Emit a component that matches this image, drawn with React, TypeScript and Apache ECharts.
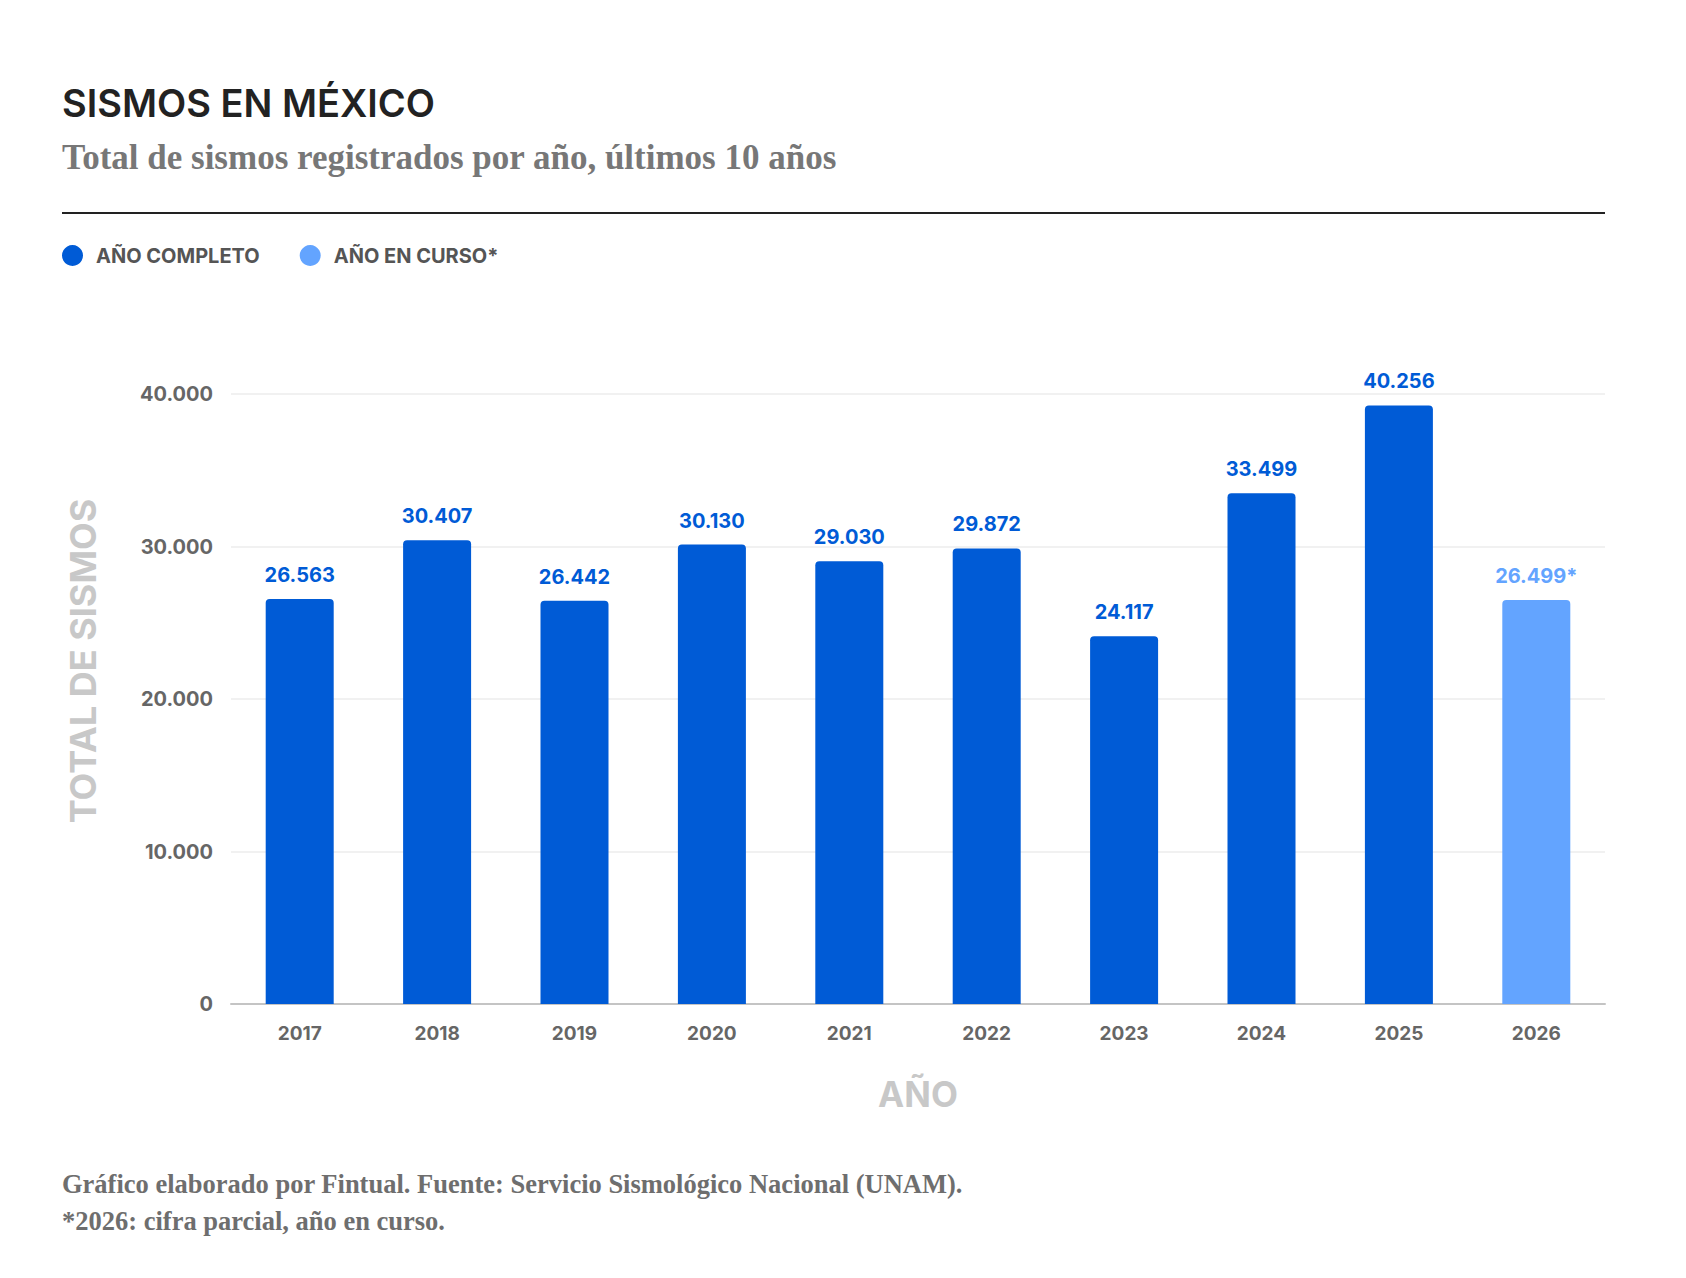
import { useEffect, useRef } from "react";
import * as echarts from "echarts";

// ── Data ──────────────────────────────────────────────────────────────────────
const YEARS = ["2017", "2018", "2019", "2020", "2021", "2022", "2023", "2024", "2025", "2026"];
// values printed above each bar
const TOTALS = [26563, 30407, 26442, 30130, 29030, 29872, 24117, 33499, 40256, 26499];
// bar heights as drawn (the 2025 bar stops short of the 40.000 line in the source)
const BAR_HEIGHTS = [26563, 30407, 26442, 30130, 29030, 29872, 24117, 33499, 39250, 26499];
const IN_PROGRESS = [false, false, false, false, false, false, false, false, false, true];
const SERIES_NAMES = ["AÑO COMPLETO", "AÑO EN CURSO*"];

const BLUE = "#005BD6";
const LIGHT_BLUE = "#63A4FF";
const SANS = "Inter, 'Noto Sans', sans-serif";
const SERIF = "'Liberation Serif', 'DejaVu Serif', serif";

const fmt = (n: number) => String(n).replace(/\B(?=(\d{3})+(?!\d))/g, ".");

export default function App() {
  const ref = useRef<HTMLDivElement>(null);

  useEffect(() => {
    const el = ref.current;
    if (!el) return;
    document.body.style.margin = "0";
    const chart = echarts.init(el, null, { renderer: "svg" });

    const barLabel = (color: string) => ({
      show: true,
      position: "top" as const,
      distance: 14,
      color,
      fontFamily: SANS,
      fontSize: 20,
      fontWeight: 700,
      formatter: (p: { dataIndex: number }) =>
        fmt(TOTALS[p.dataIndex]) + (IN_PROGRESS[p.dataIndex] ? "*" : ""),
    });

    chart.setOption({
      animation: false,
      backgroundColor: "#fff",
      legend: {
        left: 57,
        top: 240,
        icon: "circle",
        itemWidth: 21,
        itemHeight: 21,
        itemGap: 40,
        data: SERIES_NAMES,
        textStyle: {
          color: "#555",
          fontFamily: SANS,
          fontSize: 20,
          fontWeight: 700,
          padding: [0, 0, 0, 8],
        },
      },
      grid: { left: 231, right: 81, top: 394, bottom: 274, containLabel: false },
      xAxis: {
        type: "category",
        data: YEARS,
        axisLine: { lineStyle: { color: "#c4c4c4", width: 2 } },
        axisTick: { show: false },
        axisLabel: { color: "#666", fontFamily: SANS, fontSize: 19, fontWeight: 700, margin: 20 },
      },
      yAxis: {
        type: "value",
        min: 0,
        max: 40000,
        interval: 10000,
        axisLine: { show: false },
        axisTick: { show: false },
        splitLine: { lineStyle: { color: "#ececec", width: 1.5 } },
        axisLabel: {
          color: "#666",
          fontFamily: SANS,
          fontSize: 20,
          fontWeight: 700,
          margin: 18,
          formatter: (v: number) => fmt(v),
        },
      },
      series: [
        {
          name: SERIES_NAMES[0],
          type: "bar",
          barWidth: 68,
          barGap: "-100%",
          data: BAR_HEIGHTS.map((v, i) => (IN_PROGRESS[i] ? "-" : v)),
          itemStyle: { color: BLUE, borderRadius: [4, 4, 0, 0] },
          label: barLabel(BLUE),
        },
        {
          name: SERIES_NAMES[1],
          type: "bar",
          barWidth: 68,
          barGap: "-100%",
          data: BAR_HEIGHTS.map((v, i) => (IN_PROGRESS[i] ? v : "-")),
          itemStyle: { color: LIGHT_BLUE, borderRadius: [4, 4, 0, 0] },
          label: barLabel(LIGHT_BLUE),
        },
      ],
      graphic: [
        {
          type: "text",
          left: 62,
          top: 84,
          style: { text: "SISMOS EN MÉXICO", fill: "#222", font: `600 38px ${SANS}` },
        },
        {
          type: "text",
          left: 62,
          top: 140,
          style: {
            text: "Total de sismos registrados por año, últimos 10 años",
            fill: "#777",
            font: `bold 35px ${SERIF}`,
          },
        },
        {
          type: "line",
          shape: { x1: 62, y1: 213, x2: 1605, y2: 213 },
          style: { stroke: "#222", lineWidth: 2 },
        },
        {
          type: "text",
          x: 918,
          y: 1094,
          style: {
            text: "AÑO",
            fill: "#c8c8c8",
            font: `700 35px ${SANS}`,
            textAlign: "center",
            verticalAlign: "middle",
          },
        },
        {
          type: "text",
          x: 83,
          y: 661,
          rotation: Math.PI / 2,
          style: {
            text: "TOTAL DE SISMOS",
            fill: "#c8c8c8",
            font: `700 36px ${SANS}`,
            textAlign: "center",
            verticalAlign: "middle",
          },
        },
        {
          type: "text",
          left: 62,
          top: 1170,
          style: {
            text: "Gráfico elaborado por Fintual. Fuente: Servicio Sismológico Nacional (UNAM).",
            fill: "#6e6e6e",
            font: `bold 26.5px ${SERIF}`,
          },
        },
        {
          type: "text",
          left: 62,
          top: 1207,
          style: {
            text: "*2026: cifra parcial, año en curso.",
            fill: "#6e6e6e",
            font: `bold 26.5px ${SERIF}`,
          },
        },
      ],
    });

    return () => chart.dispose();
  }, []);

  return (
    <div
      ref={ref}
      style={{ position: "absolute", left: 0, top: 0, width: 1686, height: 1278, background: "#fff" }}
    />
  );
}
